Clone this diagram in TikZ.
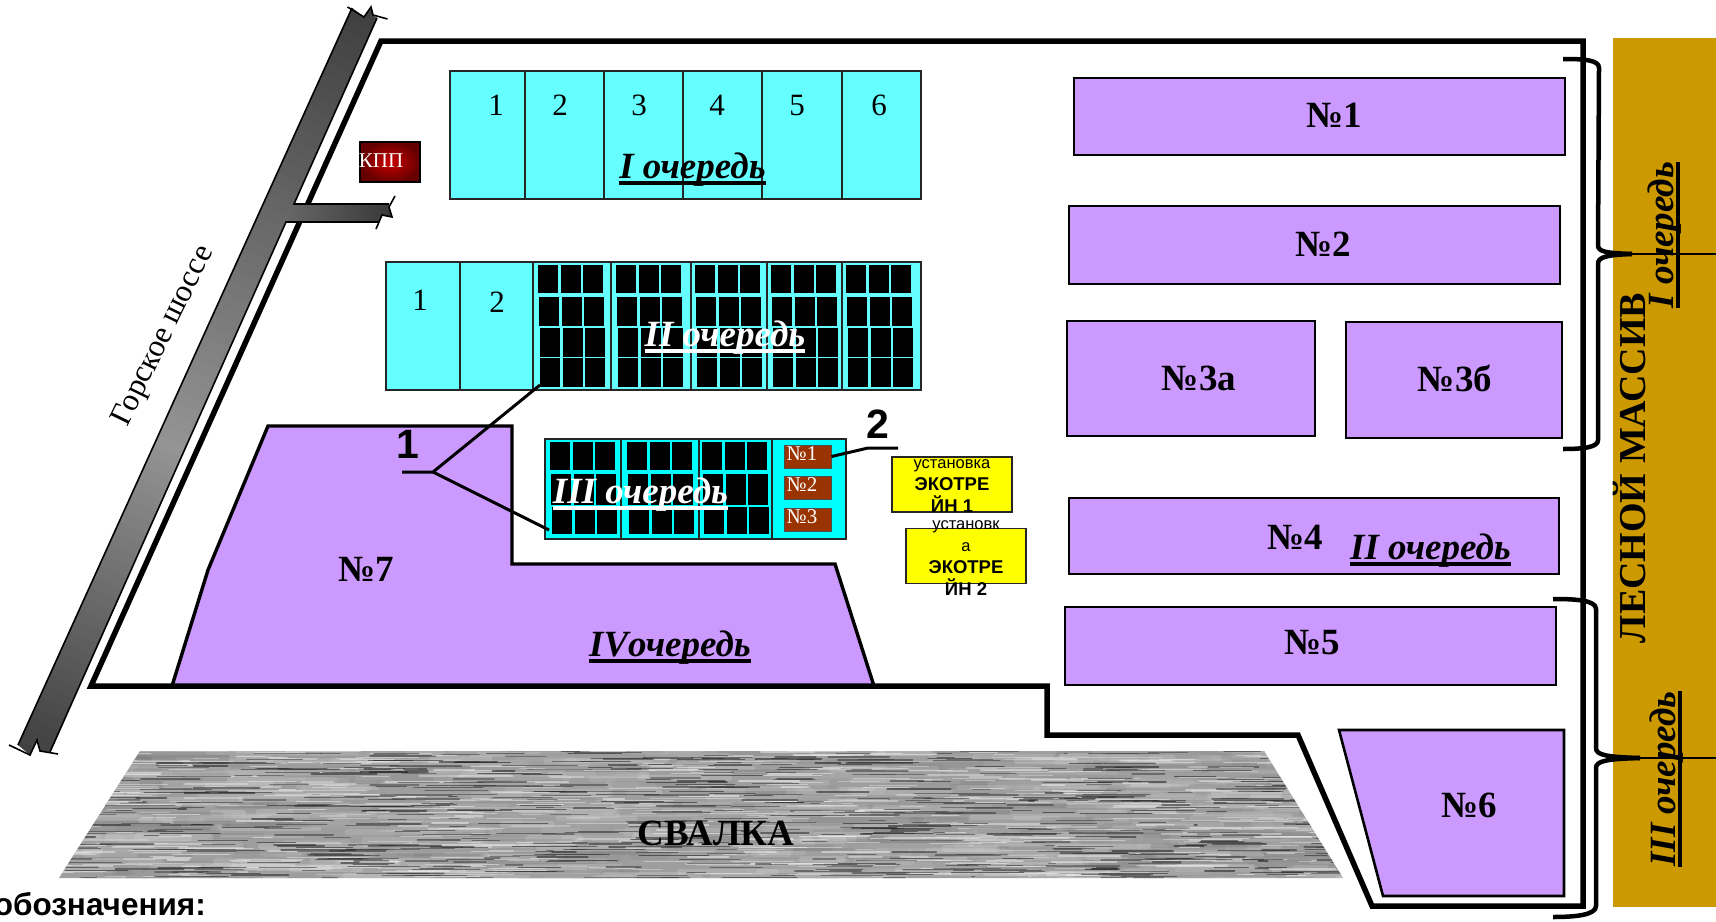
\documentclass[tikz,border=0pt]{standalone}
\usepackage{fontspec}
\setmainfont{Liberation Serif}
\setsansfont{Liberation Sans}
\usetikzlibrary{arrows.meta, positioning, calc}
\definecolor{plancyan}{HTML}{66FFFF}
\definecolor{planaqua}{HTML}{00FFFF}
\definecolor{planviolet}{HTML}{CC99FF}
\definecolor{planbrown}{HTML}{993300}
\definecolor{planyellow}{HTML}{FFFF00}
\definecolor{planforest}{HTML}{CC9900}
\definecolor{planred}{HTML}{CC0000}
\newcommand{\fs}[2]{\fontsize{#1}{#2}\selectfont}
\newcommand{\queuetext}[1]{\setbox0=\hbox{#1}\leavevmode\rlap{\vrule width\wd0 height-2.5pt depth 6.5pt}\box0}
\tikzset{
  fence/.style={line width=5.5pt, black, line join=miter},
  plotbox/.style={draw=black, line width=2.6pt, fill=planviolet},
  block/.style={draw=black!85, line width=2pt, fill=plancyan},
  divider/.style={line width=1.6pt, black!85},
  pane/.style={fill=black},
  brownbox/.style={rectangle, draw=black!70, line width=1pt, fill=planbrown, minimum width=47pt, minimum height=23pt, inner sep=0pt},
  yellowbox/.style={rectangle, draw=black!85, line width=1.5pt, fill=planyellow, minimum width=120pt, minimum height=55pt, inner sep=0pt},
  yellowtext/.style={inner sep=0pt, align=center, font=\sffamily\fs{16.5}{22}},
  plotlabel/.style={inner sep=0pt, font=\bfseries\fs{37}{37}},
  numlabel/.style={inner sep=0pt, font=\fs{31}{31}},
  queue/.style={inner sep=0pt, font=\bfseries\itshape\fs{37}{37}},
  leader/.style={line width=3pt, black},
  bracket/.style={line width=4.5pt, black, line cap=butt},
  roadedge/.style={line width=1.6pt, black},
}
\begin{document}
\begin{tikzpicture}[x=1pt, y=-1pt]
        \useasboundingbox (0,0) rectangle (1716,921);
        % dump
        \begin{scope}
          \clip (140,751) -- (1264,751) -- (1343,878) -- (59,878) -- cycle;
          \fill[black!38] (0,740) rectangle (1400,890);
          \pgfmathsetseed{4711}
          \foreach \i in {1,...,900}{
            \pgfmathsetmacro\sx{40+1320*rnd}
            \pgfmathsetmacro\sy{749+132*rnd}
            \pgfmathsetmacro\sl{30+90*rnd}
            \pgfmathsetmacro\sg{int(5+55*rnd)}
            \pgfmathsetmacro\sw{2.5+5*rnd}
            \draw[line width=\sw pt, line cap=round, black!\sg, opacity=0.22] (\sx,\sy) -- ++(\sl,0);
          }
          \foreach \i in {1,...,1300}{
            \pgfmathsetmacro\sx{40+1320*rnd}
            \pgfmathsetmacro\sy{749+132*rnd}
            \pgfmathsetmacro\sl{15+60*rnd}
            \pgfmathsetmacro\sg{int(ifthenelse(rnd<0.5,72+20*rnd,5+15*rnd))}
            \pgfmathsetmacro\sw{0.6+1.2*rnd}
            \draw[line width=\sw pt, line cap=round, black!\sg, opacity=0.55] (\sx,\sy) -- ++(\sl,0);
          }
        \end{scope}
        \node[inner sep=0pt, font=\bfseries\fs{37}{37}] (dump) at (716,833) {СВАЛКА};
        % forest
        \fill[planforest] (1613,38) rectangle (1716,907);
        % plot 7 and fence
        \draw[plotbox, line width=3.4pt] (268,426) -- (512,426) -- (512,564) -- (835,564) -- (874,686) -- (172,686) -- (208,570) -- cycle;
        \draw[fence] (381,41) -- (1583,41) -- (1583,906) -- (1372,906) -- (1298,735) -- (1047,735) -- (1047,686) -- (91,686) -- cycle;
        % road
        \begin{scope}
          \clip (352,8) -- (364,17) -- (371,7) -- (373,15) -- (377,18) -- (294,204) -- (286,222) -- (50,752) -- (40,751) -- (37,740) -- (30,755) -- (18,745) -- cycle;
          \foreach \s in {-480,-468,...,350}{
            \pgfmathsetmacro\g{\s<0 ? 42+33*abs(\s)/471 : 42+33*\s/339}
            \fill[black!\g, shift={(172,440)}, rotate=-24] (-120,\s) rectangle (120,\s+14);
          }
        \end{scope}
        \shade[left color=black!59, right color=black!78] (290,204) -- (389,204) -- (389,207) -- (392,217) -- (382,215) -- (379,222) -- (282,222) -- cycle;
        \draw[roadedge] (352,8) -- (18,745);
        \draw[roadedge] (377,18) -- (294,204) -- (389,204);
        \draw[roadedge] (379,222) -- (286,222) -- (50,752);
        \draw[roadedge] (347.5,7) -- (364,17) -- (371,7) -- (373,15) -- (387.5,19);
        \draw[roadedge] (9,745) -- (30,755) -- (37,740) -- (40,751) -- (58,754);
        \draw[roadedge] (395,196) -- (389,207) -- (392,217) -- (382,215) -- (376,229);
        \node[inner sep=0pt, rotate=64, font=\fs{31.5}{31.5}] (road) at (164,336) {Горское шоссе};
        % checkpoint
        \node[rectangle, draw=black, line width=1.5pt, inner color=planred, outer color=planred!50!black, minimum width=60pt, minimum height=40pt, inner sep=0pt] (kpp) at (390,162) {};
        \node[inner sep=0pt, text=white, font=\fs{21}{21}] (kpptext) at (381,161) {КПП};
        % first block
        \draw[block] (450,71) rectangle (921,199);
        \foreach \x in {525,604,683,762,842}
          \draw[divider] (\x,71) -- (\x,199);
        \foreach \n/\x in {1/496,2/560,3/639,4/717,5/797,6/879}
          \node[numlabel] (a\n) at (\x,105) {\n};
        \node[queue, anchor=base] (q1) at (692.5,178) {\queuetext{I очередь}};
        % second block
        \draw[block] (386,262) rectangle (921,390);
        \foreach \x in {460,533,611,691,767,842}
          \draw[divider] (\x,262) -- (\x,390);
        \foreach \cx in {538,616,695,771,846}
          \foreach \ry/\rh/\rs in {265/28/0,297/29/1,328/29/2,358/29/2}
            \foreach \k in {0,1,2}
              \fill[pane] ({\cx+\rs+\k*22.5},\ry) rectangle +(20,\rh);
        \node[numlabel] (b1) at (420,300) {1};
        \node[numlabel] (b2) at (497,302) {2};
        \node[queue, anchor=base, text=white] (q2) at (725,346) {\queuetext{II очередь}};
        % third block
        \draw[block, fill=planaqua] (545,439) rectangle (846,539);
        \foreach \x in {621,699,772}
          \draw[divider] (\x,439) -- (\x,539);
        \foreach \cx in {550,627,702}
          \foreach \ry/\rh/\rs in {442/28/0,474/31/1,507/27/2}
            \foreach \k in {0,1,2}
              \fill[pane] ({\cx+\rs+\k*22.5},\ry) rectangle +(20,\rh);
        \foreach \n/\y in {1/456.5,2/487.5,3/519.5}{
          \node[brownbox] (c\n) at (807.5,\y) {};
          \node[inner sep=0pt, text=white, font=\fs{21}{21}] (ct\n) at (802,\y-2.5) {№\n};
        }
        \node[queue, anchor=base, text=white] (q3) at (640.5,503) {\queuetext{III очередь}};
        % leaders
        \coordinate (fork) at (433,472);
        \coordinate (forkend) at (402,472);
        \coordinate (paneA) at (540,385);
        \coordinate (paneB) at (549,530);
        \coordinate (twoA) at (868,448);
        \coordinate (twoB) at (898,448);
        \draw[leader] (forkend) -- (fork) -- (paneA);
        \draw[leader] (fork) -- (paneB);
        \draw[leader] (twoB) -- (twoA) -- (c1.east);
        \node[inner sep=0pt, font=\sffamily\bfseries\fs{41}{41}] (one) at (408,444) {1};
        \node[inner sep=0pt, font=\sffamily\bfseries\fs{41}{41}] (two) at (878,424) {2};
        % units
        \node[yellowbox] (unit1) at (952,484.5) {};
        \node[yellowbox] (unit2) at (966,556) {};
        \node[yellowtext] (unit1text) at (952,486) {установка\\\fontsize{18.5}{22}\selectfont\textbf{ЭКОТРЕ}\\\fontsize{18.5}{22}\selectfont\textbf{ЙН 1}};
        \node[yellowtext] (unit2text) at (966,558.5) {установк\\а\\\fontsize{18.5}{22}\selectfont\textbf{ЭКОТРЕ}\\\fontsize{18.5}{22}\selectfont\textbf{ЙН 2}};
        % plots
        \draw[plotbox] (1074,78) rectangle (1565,155);
        \draw[plotbox] (1069,206) rectangle (1560,284);
        \draw[plotbox] (1067,321) rectangle (1315,436);
        \draw[plotbox] (1346,322) rectangle (1562,438);
        \draw[plotbox] (1069,498) rectangle (1559,574);
        \draw[plotbox] (1065,607) rectangle (1556,685);
        \draw[plotbox] (1339,730) -- (1564,730) -- (1564,896) -- (1383,896) -- cycle;
        \foreach \n/\lb/\x/\y in {p1/№1/1334/115,p2/№2/1323/244,p3/№3а/1199/378,p4/№3б/1455/378,p5/№4/1295/537,p6/№5/1312/643,p7/№6/1469/805,p8/№7/366/569}
          \node[plotlabel] (\n) at (\x,\y) {\lb};
        \node[queue, anchor=base] (q4) at (1430.5,559) {\queuetext{II очередь}};
        \node[queue, anchor=base] (q5) at (670,656) {\queuetext{IVочередь}};
        % brackets
        \draw[bracket] (1563,59) .. controls (1585,59) and (1599,60) .. (1599,68) -- (1598,245) .. controls (1598,252) and (1606,253) .. (1632,254);
        \draw[bracket] (1563,449) .. controls (1585,449) and (1598,447) .. (1598,440) -- (1598,264) .. controls (1598,257) and (1606,255) .. (1632,254);
        \draw[bracket] (1553,599) .. controls (1575,599) and (1596,600) .. (1596,609) -- (1596,748) .. controls (1596,755) and (1606,757) .. (1640,758);
        \draw[bracket] (1553,917) .. controls (1575,917) and (1596,915) .. (1596,906) -- (1596,768) .. controls (1596,761) and (1606,759) .. (1640,758);
        \coordinate (tipA) at (1632,254);
        \coordinate (tipB) at (1640,758);
        \coordinate (edgeA) at (1716,254);
        \coordinate (edgeB) at (1716,758);
        \draw[line width=2pt] (tipA) -- (edgeA);
        \draw[line width=2pt] (tipB) -- (edgeB);
        % forest labels
        \node[inner sep=0pt, rotate=90, anchor=base, font=\bfseries\fs{38}{38}] (forest) at (1645,468) {ЛЕСНОЙ МАССИВ};
        \node[queue, rotate=90, anchor=base] (q6) at (1673,235) {\queuetext{I очередь}};
        \node[queue, rotate=90, anchor=base] (q7) at (1675,779) {\queuetext{III очередь}};
        % legend
        \node[inner sep=0pt, anchor=base east, font=\sffamily\bfseries\fs{31.5}{31.5}] (legend) at (206,915) {обозначения:};
      \end{tikzpicture}
\end{document}
